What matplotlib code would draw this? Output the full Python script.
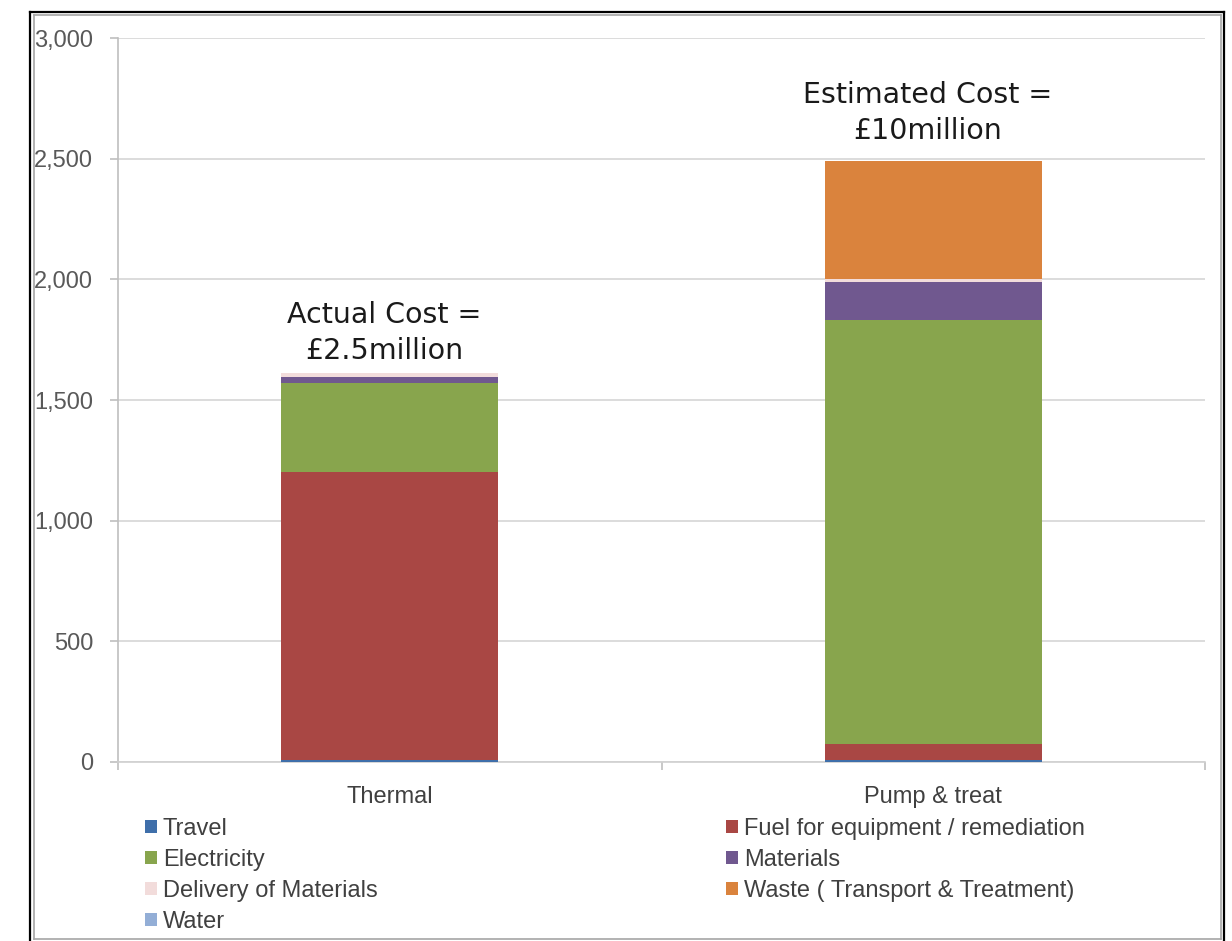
import matplotlib
matplotlib.use('Agg')
import matplotlib.pyplot as plt
from matplotlib.patches import Patch
from matplotlib.lines import Line2D
import numpy as np

# chart data
categories = ['Thermal', 'Pump & treat']
series = ['Travel', 'Fuel for equipment / remediation', 'Electricity', 'Materials',
          'Delivery of Materials', 'Waste ( Transport & Treatment)', 'Water']
travel = [8, 10]
fuel = [1192, 65]
electricity = [369, 1755]
materials = [28, 157]
delivery = [13, 16]
waste = [0, 489]
water = [0, 0]
colors = ['#3F6FAA', '#A94744', '#88A54D', '#70588F', '#F2DCDB', '#DA833D', '#93AED6']
notes = ['Actual Cost =\n£2.5million', 'Estimated Cost =\n£10million']
note_y = [1778, 2690]
yticks = [0, 500, 1000, 1500, 2000, 2500, 3000]

values = [travel, fuel, electricity, materials, delivery, waste, water]

W, H = 1232, 941
fig = plt.figure(figsize=(W / 100, H / 100), dpi=100)
ax = fig.add_axes([118 / W, 1 - 762 / H, (1205 - 118) / W, (762 - 38) / H])

tick_font = ['Liberation Sans', 'DejaVu Sans']

x = np.arange(len(categories))
bottom = np.zeros(len(categories))
for name, vals, col in zip(series, values, colors):
    ax.bar(x, vals, width=0.4, bottom=bottom, color=col, label=name, zorder=3)
    bottom += np.array(vals)

ax.set_xlim(-0.5, 1.5)
ax.set_ylim(0, 3000)
ax.set_yticks(yticks)
ax.set_yticklabels([f'{v:,}' for v in yticks], family=tick_font, fontsize=17, color='#595959')
ax.set_xticks(x)
ax.set_xticklabels(categories, family=tick_font, fontsize=17, color='#404040')
ax.set_xticks([-0.5, 0.5, 1.5], minor=True)
ax.tick_params(axis='x', which='major', length=0, pad=17)
ax.tick_params(axis='x', which='minor', length=6, color='#bfbfbf', width=1.2)
ax.tick_params(axis='y', length=6, color='#bfbfbf', width=1.2, pad=12)

ax.grid(axis='y', color='#d9d9d9', linewidth=1.3, zorder=0)
for s in ['top', 'right']:
    ax.spines[s].set_visible(False)
ax.spines['left'].set_color('#bfbfbf')
ax.spines['bottom'].set_color('#d0d0d0')
ax.spines['left'].set_linewidth(1.2)
ax.spines['bottom'].set_linewidth(1.2)

for xi, txt, yv in zip(x, notes, note_y):
    ax.text(xi - 0.01, yv, txt, ha='center', va='center', fontsize=20.5,
            family='DejaVu Sans', color='#1a1a1a', linespacing=1.38, zorder=4)

# legend split into two columns, row-major order like the original
handles = [Patch(facecolor=c, edgecolor='none') for c in colors]
left_idx = [0, 2, 4, 6]
right_idx = [1, 3, 5]
leg_kw = dict(frameon=False, handlelength=0.5, handleheight=0.5, handletextpad=0.25,
              labelspacing=0.38, borderpad=0, borderaxespad=0,
              prop={'family': tick_font, 'size': 17}, labelcolor='#404040', loc='upper left')
fig.legend([handles[i] for i in left_idx], [series[i] for i in left_idx],
           bbox_to_anchor=(145 / W, 1 - 818 / H), **leg_kw)
fig.legend([handles[i] for i in right_idx], [series[i] for i in right_idx],
           bbox_to_anchor=(726 / W, 1 - 818 / H), **leg_kw)

# picture frame
def frame_line(xs, ys, color, lw):
    fig.add_artist(Line2D([v / W for v in xs], [1 - v / H for v in ys],
                          transform=fig.transFigure, color=color, linewidth=lw))

frame_line([30, 30], [12, 941], 'black', 1.6)
frame_line([30, 1224], [12, 12], 'black', 1.6)
frame_line([1224, 1224], [12, 941], 'black', 1.6)
frame_line([33.5, 33.5], [14.5, 939], '#a6a6a6', 1.2)
frame_line([33.5, 1220.5], [14.5, 14.5], '#a6a6a6', 1.2)
frame_line([1220.5, 1220.5], [14.5, 939], '#a6a6a6', 1.2)
frame_line([33.5, 1220.5], [939, 939], '#a6a6a6', 1.2)

fig.savefig('out.png', dpi=100)
